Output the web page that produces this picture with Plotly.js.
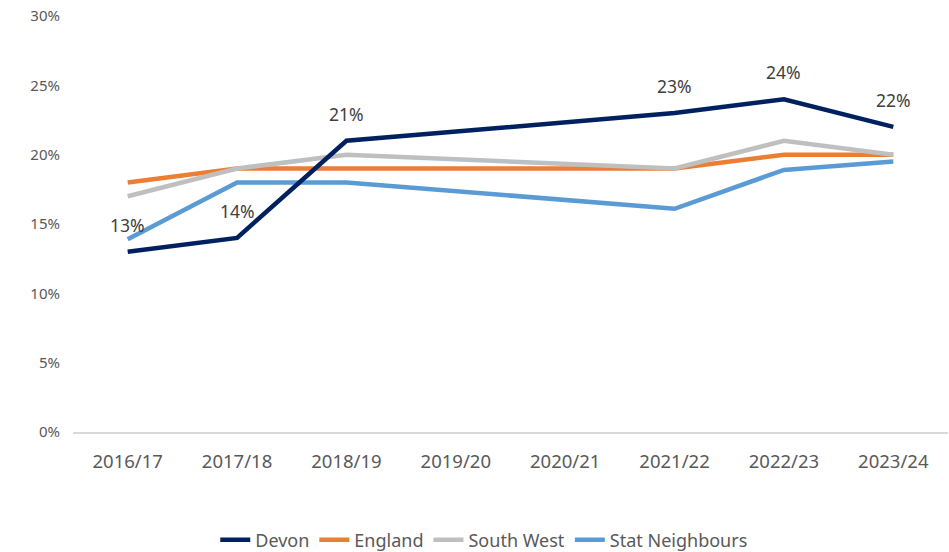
<!DOCTYPE html>
<html>
<head>
<meta charset="utf-8">
<script src="https://cdn.plot.ly/plotly-3.0.1.min.js"></script>
<style>html,body{margin:0;padding:0;background:#fff;}#chart{width:949px;height:552px;}</style>
</head>
<body>
<div id="chart"></div>
<script>
const years = ["2016/17","2017/18","2018/19","2019/20","2020/21","2021/22","2022/23","2023/24"];
const devon = [13, 14, 21, null, null, 23, 24, 22];
const england = [18, 19, 19, null, null, 19, 20, 20];
const southWest = [17, 19, 20, null, null, 19, 21, 20];
const statNeighbours = [13.9, 18, 18, null, null, 16.1, 18.9, 19.5];
const devonLabels = ["13%","14%","21%","","","23%","24%","22%"];
const yTicks = [0, 5, 10, 15, 20, 25, 30];
const yTickText = ["0%","5%","10%","15%","20%","25%","30%"];

const font = "Noto Sans, Open Sans, sans-serif";
function mk(name, y, color, rank) {
  return {type:"scatter", mode:"lines", name:name, x:years, y:y, connectgaps:true,
    line:{color:color, width:4.5}, hoverinfo:"skip", legendrank:rank};
}

const annotations = [];
years.forEach((yr, i) => {
  if (devon[i] !== null && devonLabels[i]) {
    annotations.push({x:yr, y:devon[i], text:devonLabels[i], showarrow:false,
      yshift:27, font:{family:font, size:17.5, color:"#404040"}});
  }
});

const layout = {
  width:949, height:552,
  margin:{l:73, r:1, t:16, b:120, autoexpand:false},
  paper_bgcolor:"#fff", plot_bgcolor:"#fff",
  showlegend:true,
  legend:{orientation:"h", x:0.47, xanchor:"center", y:-0.26, yanchor:"middle",
    font:{family:font, size:18, color:"#595959"}, traceorder:"normal", itemwidth:30},
  xaxis:{type:"category", range:[-0.5, 7.5], showgrid:false, zeroline:false, showline:true, linecolor:"#D9D9D9", linewidth:1.5,
    ticks:"", ticklabelstandoff:12, tickfont:{family:font, size:18.5, color:"#595959"}},
  yaxis:{range:[0,30], tickvals:yTicks, ticktext:yTickText, showgrid:false, zeroline:false, showline:false,
    ticks:"", ticklabelstandoff:12, tickfont:{family:font, size:15, color:"#595959"}, fixedrange:true},
  annotations:annotations
};
const data = [
  mk("England", england, "#ED7D31", 2),
  mk("South West", southWest, "#BFBFBF", 3),
  mk("Stat Neighbours", statNeighbours, "#5B9BD5", 4),
  mk("Devon", devon, "#002060", 1)
];
Plotly.newPlot("chart", data, layout, {displayModeBar:false, staticPlot:true});
</script>
</body>
</html>
